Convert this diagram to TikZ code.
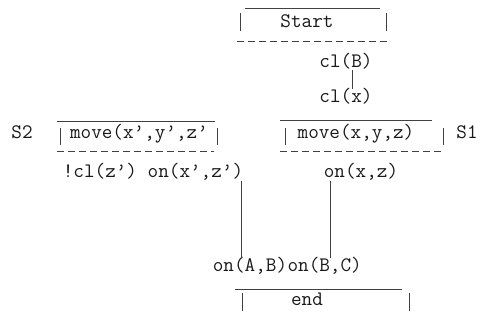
\documentclass[tikz,border=0pt]{standalone}
\usepackage{fontspec}
\begin{document}
\begin{tikzpicture}[x=1pt,y=-1pt,
  lbl/.style={font=\ttfamily\fontsize{20.6}{22}\selectfont, inner sep=0pt, anchor=base, text=black!90},
  rule/.style={line width=0.8pt, draw=black!75},
  hyph/.style={rule, dash pattern=on 7pt off 4pt}]
\useasboundingbox (0,0) rectangle (480,323);

% text of the plan
\node[lbl] (start) at (307,28)  {Start};
\node[lbl] (clB)   at (346,68)  {cl(B)};
\node[lbl] (clx)   at (346,103) {cl(x)};
\node[lbl] (mvL)   at (139,139) {move(x’,y’,z’};
\node[lbl] (S2)    at (22,139)  {S2};
\node[lbl] (mvR)   at (356,139) {move(x,y,z)};
\node[lbl] (S1)    at (467,139) {S1};
\node[lbl] (onL)   at (153,178) {!cl(z’) on(x’,z’)};
\node[lbl] (onR)   at (361,178) {on(x,z)};
\node[lbl] (onAB)  at (250,272) {on(A,B)};
\node[lbl, anchor=base west] (onBC) at (onAB.base east) {on(B,C)};
\node[lbl] (fin)   at (307,306) {end};

% Start box
\draw[rule] (245,8) -- (380,8);
\draw[rule] (240,13) -- (240,31);
\draw[rule] (386,13) -- (386,31);
\draw[hyph] (237,41) -- (390,41);

% left action box
\draw[rule] (57,121) -- (215,121);
\draw[rule] (60,128) -- (60,145);
\draw[rule] (217,128) -- (217,145);
\draw[hyph] (57,151) -- (214,151);

% right action box
\draw[rule] (280,120) -- (432,120);
\draw[rule] (285,128) -- (285,145);
\draw[rule] (443,128) -- (443,145);
\draw[hyph] (280,151) -- (443,151);

% end box
\draw[rule] (235,289) -- (402,289);
\draw[rule] (242,293) -- (242,311);
\draw[rule] (409,293) -- (409,311);

% links
\coordinate (xa) at (352,0);
\coordinate (xl) at (241,0);
\coordinate (xr) at (330,0);
\draw[rule] (clB.south -| xa) -- (clx.north -| xa);
\draw[rule] (onL.south -| xl) -- (onAB.north -| xl);
\draw[rule] (onR.south -| xr) -- (onBC.north -| xr);
\end{tikzpicture}
\end{document}
